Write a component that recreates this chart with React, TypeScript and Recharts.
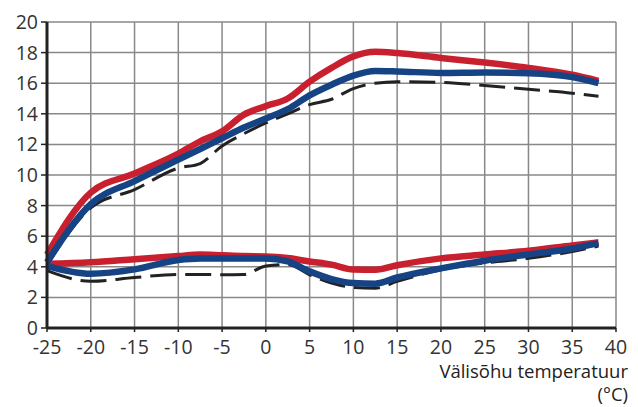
import React from "react";
import {
    LineChart,
    Line,
    XAxis,
    YAxis,
    CartesianGrid,
} from "recharts";

// outdoor temperature points (°C)
const temps = [-25, -20, -15, -10, -7.5, -5, -2.5, 0, 2.5, 5, 7.5, 10, 12.5, 15, 20, 25, 30, 35, 38];

// upper group
const redHigh = [4.8, 8.85, 10.1, 11.4, 12.2, 12.85, 13.95, 14.5, 15.0, 16.1, 17.0, 17.75, 18.05, 17.97, 17.65, 17.35, 17.0, 16.55, 16.15];
const blueHigh = [4.3, 8.1, 9.6, 11.0, 11.7, 12.4, 13.1, 13.7, 14.3, 15.2, 15.9, 16.5, 16.8, 16.77, 16.67, 16.7, 16.65, 16.4, 16.0];
const dashHigh = [4.1, 7.85, 9.05, 10.45, 10.75, 11.9, 12.7, 13.4, 14.0, 14.6, 14.95, 15.65, 16.0, 16.1, 16.05, 15.85, 15.6, 15.35, 15.15];

// lower group
const redLow = [4.2, 4.3, 4.5, 4.7, 4.8, 4.75, 4.7, 4.68, 4.57, 4.35, 4.14, 3.82, 3.8, 4.1, 4.55, 4.8, 5.05, 5.4, 5.6];
const blueLow = [4.05, 3.55, 3.83, 4.45, 4.55, 4.55, 4.55, 4.55, 4.35, 3.7, 3.2, 2.94, 2.9, 3.3, 3.9, 4.4, 4.8, 5.2, 5.55];
const dashLow = [3.75, 3.05, 3.3, 3.5, 3.5, 3.48, 3.5, 4.05, 4.15, 3.48, 2.94, 2.65, 2.6, 3.05, 3.8, 4.25, 4.55, 5.0, 5.35];

const xTicks = [-25, -20, -15, -10, -5, 0, 5, 10, 15, 20, 25, 30, 35, 40];
const yTicks = [0, 2, 4, 6, 8, 10, 12, 14, 16, 18, 20];

const RED = "#c8202f";
const BLUE = "#164384";
const DARK = "#222";
const FONT = "'Open Sans', sans-serif";

const data = temps.map((x, i) => ({
    x,
    redHigh: redHigh[i],
    blueHigh: blueHigh[i],
    dashHigh: dashHigh[i],
    redLow: redLow[i],
    blueLow: blueLow[i],
    dashLow: dashLow[i],
}));

const AxisTitle = () => (
    <g>
        <text x={628} y={378} textAnchor="end" fontSize={18.5} fill={DARK} fontFamily={FONT}>
            Välisõhu temperatuur
        </text>
        <text x={628} y={401} textAnchor="end" fontSize={18.5} fill={DARK} fontFamily={FONT}>
            (°C)
        </text>
    </g>
);

export default function App() {
    const tick = { fontSize: 19.5, fill: "#333", fontFamily: FONT };
    return (
        <div style={{ position: "absolute", left: 0, top: 0 }}>
            <LineChart
                width={638}
                height={407}
                data={data}
                margin={{ top: 22, right: 22, bottom: 49, left: 0 }}
            >
                <CartesianGrid stroke="#888" strokeWidth={1.5} />
                <XAxis
                    dataKey="x"
                    type="number"
                    domain={[-25, 40]}
                    ticks={xTicks}
                    interval={0}
                    height={30}
                    tick={tick}
                    axisLine={{ stroke: DARK, strokeWidth: 3 }}
                    tickLine={{ stroke: DARK, strokeWidth: 1.5 }}
                    tickSize={4}
                    tickMargin={8}
                />
                <YAxis
                    type="number"
                    domain={[0, 20]}
                    ticks={yTicks}
                    interval={0}
                    width={47}
                    tick={tick}
                    axisLine={{ stroke: DARK, strokeWidth: 3 }}
                    tickLine={{ stroke: DARK, strokeWidth: 1.5 }}
                    tickSize={6}
                    tickMargin={3}
                />
                <Line dataKey="dashHigh" type="monotone" stroke={DARK} strokeWidth={3} strokeDasharray="26 9" dot={false} isAnimationActive={false} />
                <Line dataKey="dashLow" type="monotone" stroke={DARK} strokeWidth={3} strokeDasharray="26 9" dot={false} isAnimationActive={false} />
                <Line dataKey="redHigh" type="monotone" stroke={RED} strokeWidth={6.5} dot={false} isAnimationActive={false} />
                <Line dataKey="redLow" type="monotone" stroke={RED} strokeWidth={6.5} dot={false} isAnimationActive={false} />
                <Line dataKey="blueHigh" type="monotone" stroke={BLUE} strokeWidth={6.5} dot={false} isAnimationActive={false} />
                <Line dataKey="blueLow" type="monotone" stroke={BLUE} strokeWidth={6.5} dot={false} isAnimationActive={false} />
                <AxisTitle />
            </LineChart>
        </div>
    );
}
